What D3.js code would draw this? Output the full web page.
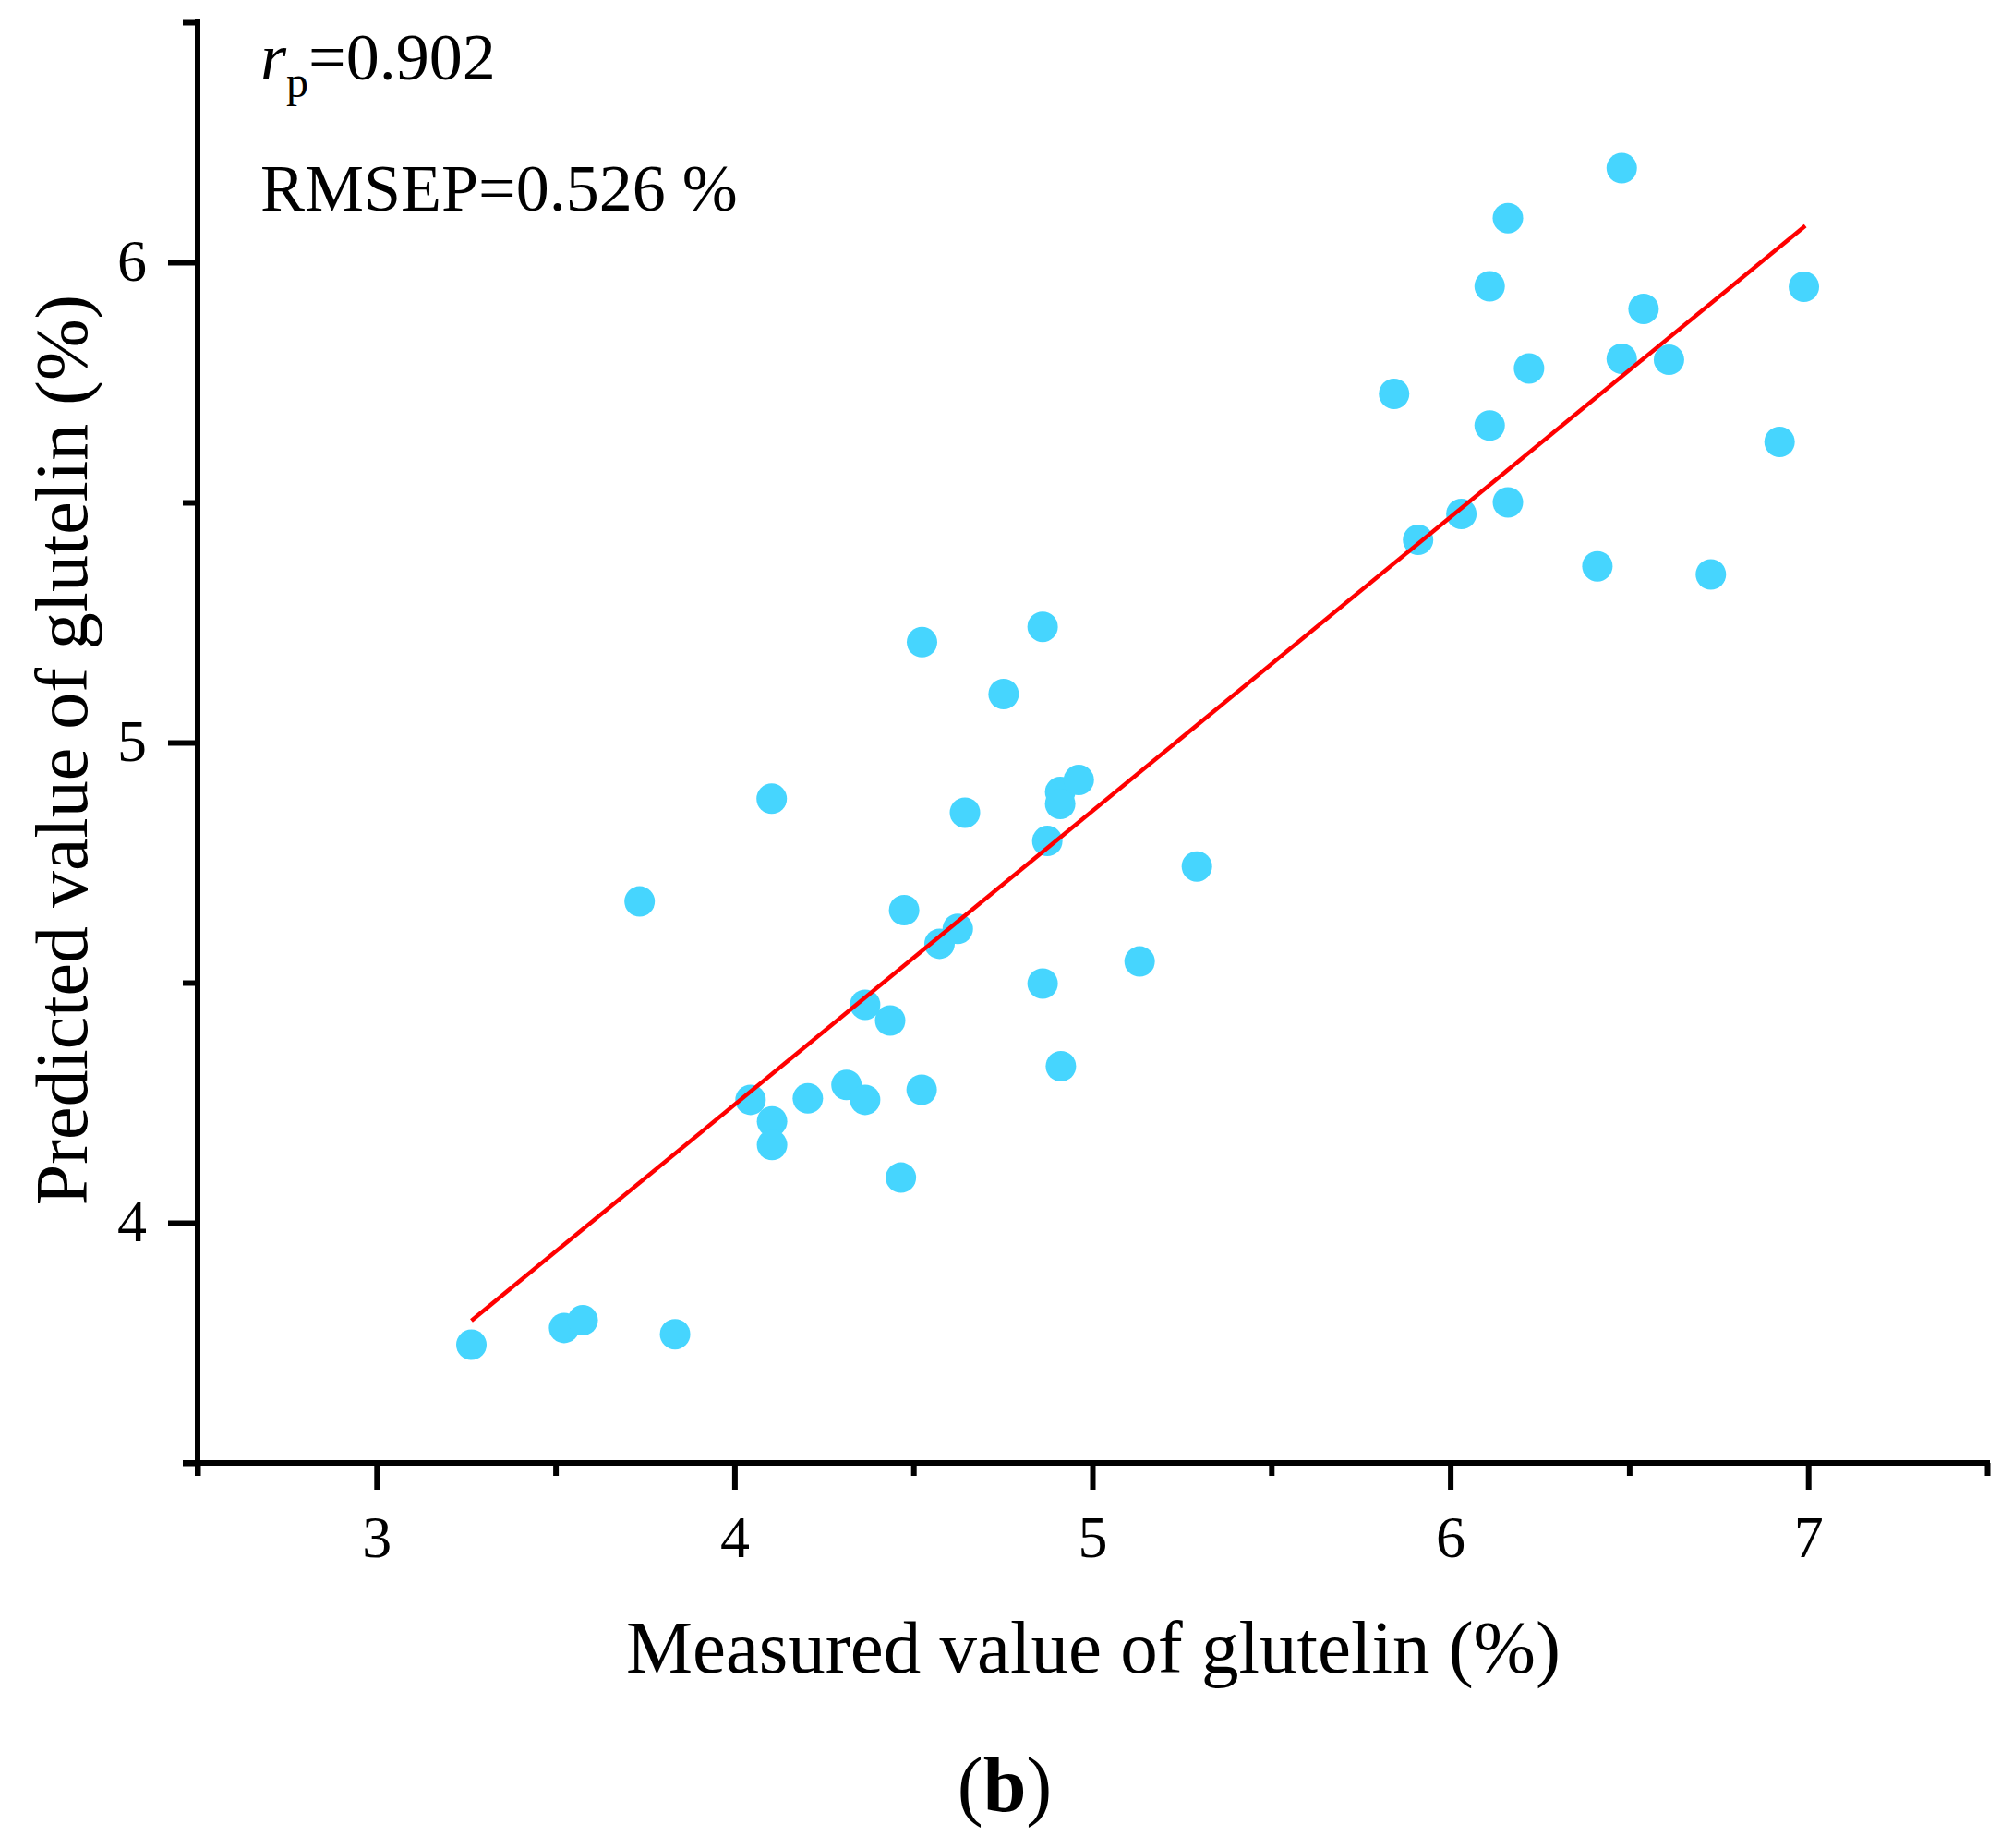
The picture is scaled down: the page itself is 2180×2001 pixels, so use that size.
<!DOCTYPE html>
<html>
<head>
<meta charset="utf-8">
<script src="https://cdn.jsdelivr.net/npm/d3@7"></script>
<style>
  html, body { margin: 0; padding: 0; background: #fff; }
  svg { display: block; }
</style>
</head>
<body>
<svg id="chart" width="2180" height="2001"></svg>
<script>
// ---- data ----
const measured = [3.265, 3.524, 3.576, 3.834, 3.735, 4.104, 4.045, 4.105, 4.105, 4.205,
  4.313, 4.365, 4.365, 4.435, 4.465, 4.523, 4.474, 4.573, 4.624, 4.644,
  4.524, 4.752, 4.861, 4.874, 4.861, 4.910, 4.910, 4.962, 4.912, 5.132,
  5.292, 5.843, 5.910, 6.031, 6.110, 6.110, 6.161, 6.161, 6.220, 6.411,
  6.479, 6.479, 6.540, 6.611, 6.728, 6.920, 6.988];
const predicted = [3.746, 3.781, 3.797, 3.768, 4.669, 4.883, 4.256, 4.211, 4.162, 4.259,
  4.287, 4.256, 4.454, 4.421, 4.094, 4.277, 4.651, 4.581, 4.612, 4.854,
  5.209, 5.101, 5.241, 4.795, 4.498, 4.897, 4.872, 4.922, 4.326, 4.544,
  4.742, 5.726, 5.422, 5.476, 5.950, 5.660, 6.092, 5.500, 5.779, 5.367,
  6.196, 5.799, 5.903, 5.797, 5.350, 5.626, 5.949];
const fitX = [3.265, 6.992];
const fitY = [3.796, 6.076];
const xTicks = [3, 4, 5, 6, 7];
const xMinorTicks = [2.5, 3.5, 4.5, 5.5, 6.5, 7.5];
const yTicks = [4, 5, 6];
const yMinorTicks = [3.5, 4.5, 5.5, 6.5];
const xDomain = [2.5, 7.5];
const yDomain = [3.5, 6.5];
const xTitle = "Measured value of glutelin (%)";
const yTitle = "Predicted value of glutelin (%)";

// ---- layout ----
const FONT = "'Liberation Serif', 'Times New Roman', Times, serif";
const plotL = 214, plotR = 2152, plotT = 24, plotB = 1584;
const svg = d3.select("#chart");
const x = d3.scaleLinear().domain(xDomain).range([plotL, plotR]);
const y = d3.scaleLinear().domain(yDomain).range([plotB, plotT]);

// points
svg.append("g").selectAll("circle")
  .data(measured.map((m, i) => [m, predicted[i]]))
  .join("circle")
  .attr("cx", d => x(d[0]))
  .attr("cy", d => y(d[1]))
  .attr("r", 16.5)
  .attr("fill", "#46D5FE");

// fit line
svg.append("path")
  .datum(fitX.map((v, i) => [v, fitY[i]]))
  .attr("d", d3.line().x(d => x(d[0])).y(d => y(d[1])))
  .attr("stroke", "#FF0000")
  .attr("stroke-width", 4.5)
  .attr("fill", "none");

// axes
const sw = 6;
function styleAxis(g) {
  g.select(".domain").remove();
  g.selectAll("line").attr("stroke", "#000").attr("stroke-width", sw);
  g.selectAll("text").attr("font-family", FONT).attr("font-size", 64).attr("fill", "#000");
}
// x minor
svg.append("g").attr("transform", `translate(0,${plotB})`)
  .call(d3.axisBottom(x).tickValues(xMinorTicks).tickSize(14).tickFormat(""))
  .call(styleAxis);
// x major
svg.append("g").attr("transform", `translate(0,${plotB})`)
  .call(d3.axisBottom(x).tickValues(xTicks).tickSize(29).tickFormat(d3.format("d")))
  .call(styleAxis)
  .call(g => g.selectAll("text").attr("y", 102).attr("dy", null));
// y minor
svg.append("g").attr("transform", `translate(${plotL},0)`)
  .call(d3.axisLeft(y).tickValues(yMinorTicks).tickSize(16).tickFormat(""))
  .call(styleAxis);
// y major
svg.append("g").attr("transform", `translate(${plotL},0)`)
  .call(d3.axisLeft(y).tickValues(yTicks).tickSize(32).tickFormat(d3.format("d")))
  .call(styleAxis)
  .call(g => g.selectAll("text").attr("x", -55).attr("dy", "0.31em"));

// axis lines
svg.append("line")
  .attr("x1", plotL - 16).attr("x2", plotR + sw / 2)
  .attr("y1", plotB).attr("y2", plotB)
  .attr("stroke", "#000").attr("stroke-width", sw);
svg.append("line")
  .attr("x1", plotL).attr("x2", plotL)
  .attr("y1", plotT - sw / 2).attr("y2", plotB + 14)
  .attr("stroke", "#000").attr("stroke-width", sw);

// titles
svg.append("text")
  .attr("x", 1184).attr("y", 1811)
  .attr("text-anchor", "middle")
  .attr("font-family", FONT).attr("font-size", 81)
  .text(xTitle);
svg.append("text")
  .attr("transform", "translate(94,812) rotate(-90)")
  .attr("text-anchor", "middle")
  .attr("font-family", FONT).attr("font-size", 80)
  .text(yTitle);

// panel label
const pl = svg.append("text")
  .attr("x", 1088).attr("y", 1961)
  .attr("text-anchor", "middle")
  .attr("font-family", FONT).attr("font-size", 84);
pl.append("tspan").text("(");
pl.append("tspan").attr("font-weight", "bold").text("b");
pl.append("tspan").text(")");

// annotations
const a1 = svg.append("text")
  .attr("x", 282).attr("y", 86)
  .attr("font-family", FONT).attr("font-size", 72);
a1.append("tspan").attr("font-style", "italic").text("r");
a1.append("tspan").attr("font-size", 48).attr("dy", 19).text("p");
a1.append("tspan").attr("dy", -19).text("=0.902");

svg.append("text")
  .attr("x", 282).attr("y", 228)
  .attr("font-family", FONT).attr("font-size", 72)
  .text("RMSEP=0.526 %");
</script>
</body>
</html>
